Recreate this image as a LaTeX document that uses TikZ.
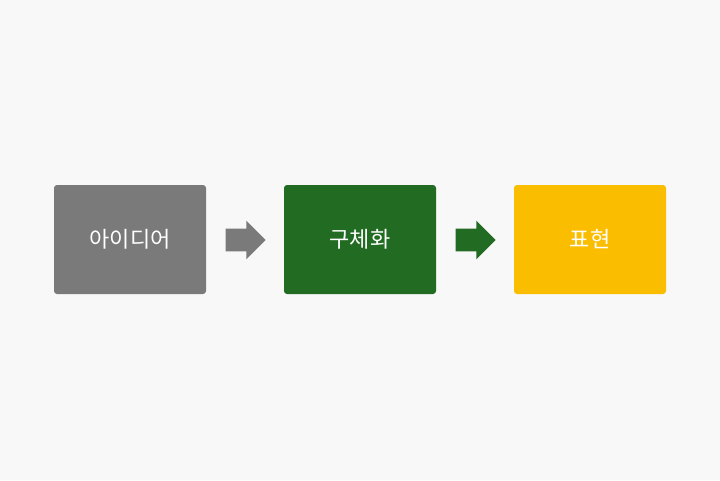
\documentclass[tikz,border=0pt]{standalone}
\usepackage{fontspec}
\newfontfamily\kr{Noto Sans CJK KR}
\usetikzlibrary{shapes.arrows}
\definecolor{bg}{HTML}{F8F8F8}
\definecolor{idea}{HTML}{7A7A7A}
\definecolor{concrete}{HTML}{226B22}
\definecolor{express}{HTML}{FBBD00}
\tikzset{every picture/.style={line width=0.75pt}}
\tikzset{
  stagebox/.style={rounded corners=3pt, minimum width=152pt, minimum height=109pt, inner sep=0pt, text=white, font=\kr\fontsize{22}{26}\selectfont},
  flowarrow/.style={single arrow, minimum height=40pt, inner xsep=0pt, inner ysep=11pt, single arrow head extend=8pt, single arrow head indent=0pt}
}
\begin{document}
\begin{tikzpicture}[x=1pt,y=-1pt]
		\fill[bg] (0,0) rectangle (720,480);
		\useasboundingbox (0,0) rectangle (720,480);
		
		%stages
		\node[stagebox, fill=idea] (idea) at (130,239.5) {아이디어};
		\node[stagebox, fill=concrete] (concrete) at (360,239.5) {구체화};
		\node[stagebox, fill=express] (express) at (590,239.5) {표현};
		
		%arrows between stages
		\node[flowarrow, fill=idea] (arrA) at (240,240) {};
		\node[flowarrow, fill=concrete] (arrB) at (470,240) {};
		
\end{tikzpicture}
\end{document}
